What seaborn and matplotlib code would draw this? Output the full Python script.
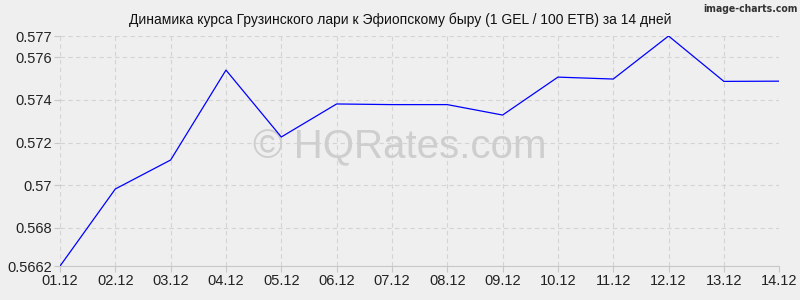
import matplotlib
matplotlib.use("Agg")
import matplotlib.pyplot as plt
import seaborn as sns
import pandas as pd

dates = ["01.12", "02.12", "03.12", "04.12", "05.12", "06.12", "07.12",
         "08.12", "09.12", "10.12", "11.12", "12.12", "13.12", "14.12"]
rates = [0.5662, 0.56982, 0.57118, 0.5754, 0.57226, 0.57381, 0.57378,
         0.57378, 0.57329, 0.57507, 0.57498, 0.5770, 0.57487, 0.57488]
yticks = [0.5662, 0.568, 0.57, 0.572, 0.574, 0.576, 0.577]
ytick_labels = ["0.5662", "0.568", "0.57", "0.572", "0.574", "0.576", "0.577"]
title = "Динамика курса Грузинского лари к Эфиопскому быру (1 GEL / 100 ETB) за 14 дней"

sns.set_theme(style="white")
plt.rcParams['font.family'] = ['Liberation Sans', 'DejaVu Sans']

df = pd.DataFrame({"x": range(len(dates)), "rate": rates})

fig = plt.figure(figsize=(8, 3), dpi=100, facecolor="#efefef")
ax = fig.add_axes([0.075, 0.113, 0.899, 0.767])
ax.set_facecolor("#efefef")

sns.lineplot(data=df, x="x", y="rate", ax=ax, color="#0000ff", linewidth=0.9, zorder=3)

ax.set_xlim(0, len(dates) - 1)
ax.set_ylim(yticks[0], yticks[-1])
ax.set_xticks(range(len(dates)))
ax.set_xticklabels(dates)
ax.set_yticks(yticks)
ax.set_yticklabels(ytick_labels)
ax.grid(True, color="#d4d4d4", linestyle=(0, (4, 3)), linewidth=0.8)
for s in ["top", "right", "left"]:
    ax.spines[s].set_visible(False)
ax.spines["bottom"].set_color("#c8c8c8")
ax.spines["bottom"].set_linewidth(0.8)
ax.tick_params(axis="both", labelsize=10.5, colors="#222222", length=4, width=0.8,
               color="#c8c8c8", pad=2, left=True, bottom=True)
ax.set_xlabel("")
ax.set_ylabel("")

ax.text(0.5, 0.51, "© HQRates.com", transform=fig.transFigure, ha="center", va="center",
        fontsize=29, color="#cecece", zorder=1)

fig.text(0.5, 0.935, title, ha="center", va="center", fontsize=10, color="#111111")
fig.text(0.997, 0.988, "image-charts.com", ha="right", va="top", fontsize=7.5,
         color="#333333", family="DejaVu Sans", fontstretch="condensed", fontweight="bold")

fig.savefig("out.png", dpi=100, facecolor=fig.get_facecolor())
